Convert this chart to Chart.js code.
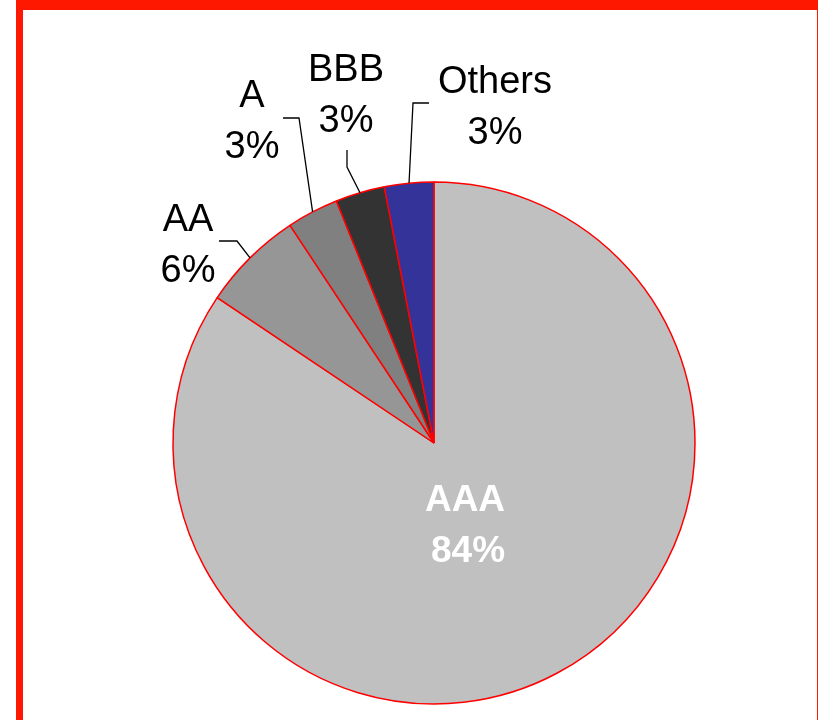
<!DOCTYPE html>
<html>
<head>
<meta charset="utf-8">
<script src="https://cdn.jsdelivr.net/npm/chart.js@4.4.1/dist/chart.umd.min.js"></script>
<style>
  body { margin: 0; background: #fff; }
  #frame {
    position: absolute; left: 16px; top: 0; width: 794px; height: 740px;
    border-left: 7px solid #ff1800; border-top: 10px solid #ff1800; border-right: 1px solid #ff1800;
    background: #fff;
  }
  #wrap { position: absolute; left: 0; top: 0; width: 818px; height: 720px; }
</style>
</head>
<body>
<div id="frame"></div>
<div id="wrap"><canvas id="pieChart" width="818" height="720"></canvas></div>
<script>
// data
const ratings = ["AAA", "AA", "A", "BBB", "Others"];
const shares = [84.4, 6.3, 3.2, 3.05, 3.05];
const sliceColors = ["#c0c0c0", "#969696", "#808080", "#333333", "#333399"];

// label placement (center x, first baseline) and leader elbows, per slice
const labelStyle = [
  { x: 465, y: 511, color: "#fff", bold: true, leader: null },
  { x: 188, y: 231, color: "#000", leader: [[219, 241], [237, 241]] },
  { x: 252, y: 107, color: "#000", leader: [[283, 118], [299, 118]] },
  { x: 346, y: 81, color: "#000", leader: [[347, 150], [347, 167]] },
  { x: 495, y: 93, color: "#000", leader: [[429, 103], [413, 103]] },
];

const pieLabels = {
  id: 'pieLabels',
  afterDatasetsDraw(chart) {
    const ctx = chart.ctx;
    const meta = chart.getDatasetMeta(0);
    const total = shares.reduce((a, b) => a + b, 0);
    meta.data.forEach((arc, i) => {
      const st = labelStyle[i];
      const p = arc.getProps(['x', 'y', 'startAngle', 'endAngle', 'outerRadius'], true);
      ctx.save();
      if (st.leader) {
        const mid = (p.startAngle + p.endAngle) / 2;
        ctx.strokeStyle = '#000';
        ctx.lineWidth = 1.3;
        ctx.beginPath();
        ctx.moveTo(st.leader[0][0], st.leader[0][1]);
        ctx.lineTo(st.leader[1][0], st.leader[1][1]);
        ctx.lineTo(p.x + Math.cos(mid) * p.outerRadius, p.y + Math.sin(mid) * p.outerRadius);
        ctx.stroke();
      }
      ctx.fillStyle = st.color;
      ctx.font = (st.bold ? 'bold 37px ' : '38px ') + '"Liberation Sans", Arial, sans-serif';
      ctx.textAlign = 'center';
      ctx.textBaseline = 'alphabetic';
      ctx.fillText(ratings[i], st.x, st.y);
      ctx.fillText(Math.round(shares[i] / total * 100) + '%', st.x + (st.bold ? 3 : 0), st.y + 51);
      ctx.restore();
    });
  }
};

const pieChart = new Chart(document.getElementById("pieChart").getContext("2d"), {
  type: 'pie',
  data: {
    labels: ratings,
    datasets: [{
      data: shares,
      backgroundColor: sliceColors,
      borderColor: "#ff0000",
      borderWidth: 1.5,
      radius: 261,
    }]
  },
  options: {
    responsive: false,
    animation: false,
    layout: { padding: { left: 50, right: 0, top: 166, bottom: 0 } },
    plugins: {
      legend: { display: false },
      tooltip: { enabled: false }
    }
  },
  plugins: [pieLabels]
});
</script>
</body>
</html>
